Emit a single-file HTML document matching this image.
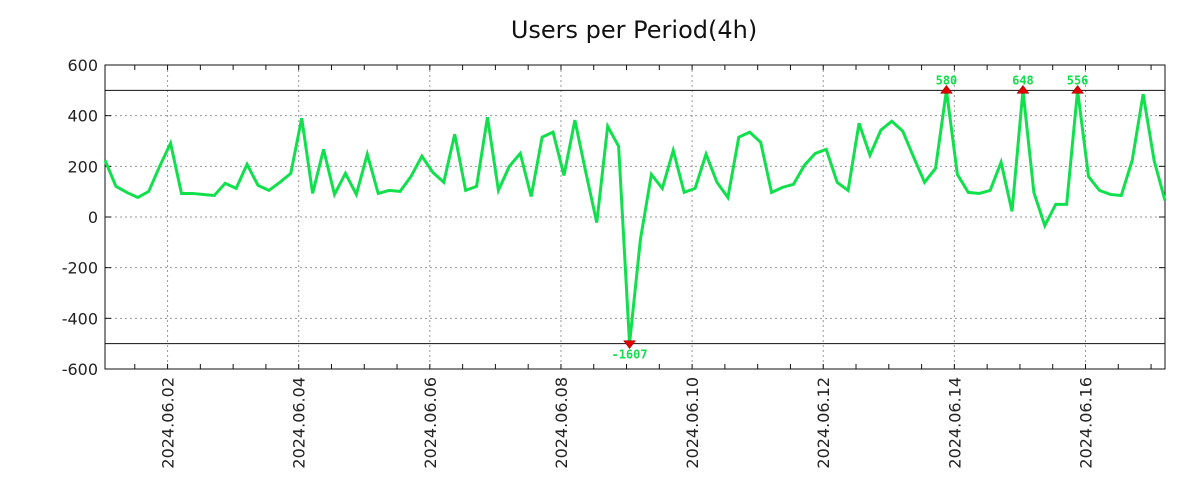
<!DOCTYPE html>
<html><head><meta charset="utf-8"><style>
html,body{margin:0;padding:0;background:#fff;}
svg{display:block;font-family:"DejaVu Sans","Liberation Sans",sans-serif;}
</style></head><body>
<svg id="chart" width="1200" height="500" xmlns="http://www.w3.org/2000/svg">
<text x="634" y="38" font-size="24" text-anchor="middle" fill="#111">Users per Period(4h)</text>
<g id="grid"></g><g id="axes"></g><g id="series"></g><g id="marks"></g>
</svg>
<script>
const startHour = 1.1; // hours since 2024-06-01 00:00
const stepHours = 4;
const userValues = [224,121,97,77,101,200,291,93,93,89,85,133,113,208,125,105,137,172,390,93,267,89,172,89,248,93,105,101,160,240,176,137,327,105,121,394,105,200,251,81,315,335,164,382,176,-22,358,279,-1607,-87,168,113,263,97,113,248,137,77,315,335,295,97,117,129,204,251,267,137,105,370,244,343,378,339,236,137,192,580,168,97,93,105,216,22,648,97,-34,50,50,556,160,105,89,85,224,485,224,65];
const yTicks = [600,400,200,0,-200,-400,-600];
const yGridTicks = [400,200,0,-200,-400];
const clipLimits = [500,-500];
const xTickLabels = ["2024.06.02","2024.06.04","2024.06.06","2024.06.08","2024.06.10","2024.06.12","2024.06.14","2024.06.16"];
const xTickDays = [2,4,6,8,10,12,14,16];

const NS="http://www.w3.org/2000/svg";
const L=105,R=1165,T=65,B=369;
const hEnd = startHour + (userValues.length-1)*stepHours;
const xs=h=>L+(h-startHour)/(hEnd-startHour)*(R-L);
const ys=v=>B-(v+600)/1200*(B-T);
function mk(tag,attrs,parent){const e=document.createElementNS(NS,tag);for(const k in attrs)e.setAttribute(k,attrs[k]);document.getElementById(parent).appendChild(e);return e;}

yGridTicks.forEach(v=>{const e=mk('line',{x1:L,x2:R,y1:ys(v),y2:ys(v),stroke:'#999','stroke-dasharray':'2,3'},'grid');

});
xTickDays.forEach(d=>{const x=xs((d-1)*24);const e=mk('line',{x1:x,x2:x,y1:T,y2:B,stroke:'#999','stroke-dasharray':'2,3'},'grid');

});
for(let h=12;h<hEnd;h+=12){const x=xs(h);if(x<=L||x>=R)continue;
 mk('line',{x1:x,x2:x,y1:T,y2:T+5,stroke:'#111'},'axes');mk('line',{x1:x,x2:x,y1:B,y2:B-5,stroke:'#111'},'axes');}
yTicks.forEach(v=>{const y=ys(v);
 mk('line',{x1:L,x2:L+6,y1:y,y2:y,stroke:'#111'},'axes');mk('line',{x1:R,x2:R-6,y1:y,y2:y,stroke:'#111'},'axes');
 const t=mk('text',{x:98,y:y+6,'font-size':16,'text-anchor':'end',fill:'#222'},'axes');t.textContent=v;
 
 });
xTickDays.forEach((d,i)=>{const x=xs((d-1)*24);
 const t=mk('text',{x:0,y:0,'font-size':16,'text-anchor':'end',fill:'#222',transform:`translate(${x+6},377) rotate(-90)`},'axes');t.textContent=xTickLabels[i];
 
 });
clipLimits.forEach(v=>{const e=mk('line',{x1:L,x2:R,y1:ys(v),y2:ys(v),stroke:'#111','stroke-width':1},'axes');

});
const fr=mk('rect',{x:L,y:T,width:R-L,height:B-T,fill:'none',stroke:'#111'},'axes');



const pts=userValues.map((v,i)=>{const c=Math.max(clipLimits[1],Math.min(clipLimits[0],v));return [xs(startHour+i*stepHours),ys(c)];});
const pl=mk('polyline',{points:pts.map(p=>p.join(',')).join(' '),fill:'none',stroke:'#11e04d','stroke-width':3,'stroke-linejoin':'miter'},'series');


userValues.forEach((v,i)=>{
 if(v>clipLimits[0]||v<clipLimits[1]){const [x,y]=pts[i];const up=v>0;
  const m=mk('polygon',{points:up?`${x-6},${y+3} ${x+6},${y+3} ${x},${y-5}`:`${x-6},${y-3} ${x+6},${y-3} ${x},${y+5}`,fill:'#e00000',stroke:'#900','stroke-width':0.5},'marks');
  
  
  const t=mk('text',{x:x,y:up?y-6:y+15,'font-size':12,'font-weight':'bold','text-anchor':'middle',fill:'#11e04d','font-family':'"DejaVu Sans Mono","Liberation Mono",monospace'},'marks');t.textContent=v;
  
  }
});
</script>
</body></html>
